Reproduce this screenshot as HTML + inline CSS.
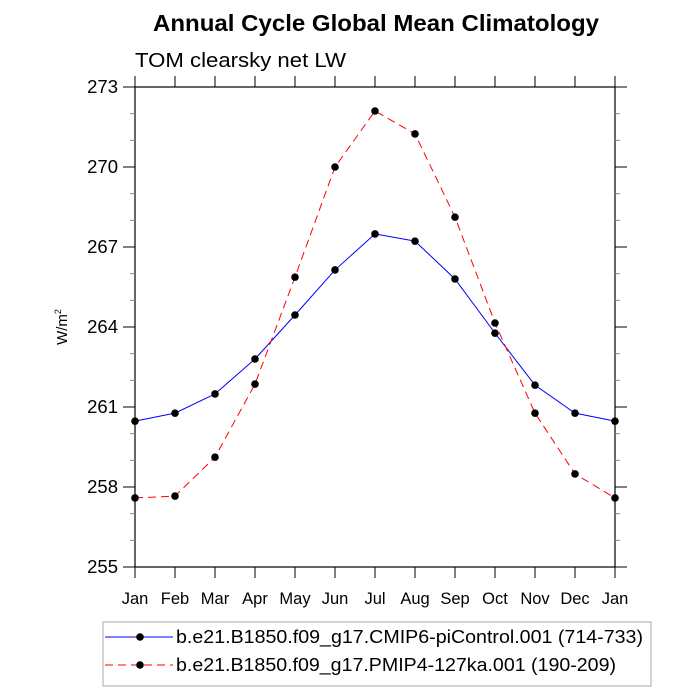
<!DOCTYPE html>
<html><head><meta charset="utf-8"><style>
body{margin:0;background:#fff}
svg{font-family:"Liberation Sans",sans-serif;display:block}
</style></head><body>
<svg width="700" height="700" viewBox="0 0 700 700">
<text x="153" y="31" font-size="23" font-weight="bold" textLength="446" lengthAdjust="spacingAndGlyphs">Annual Cycle Global Mean Climatology</text>
<text x="135" y="67" font-size="20" textLength="211" lengthAdjust="spacingAndGlyphs">TOM clearsky net LW</text>
<text transform="translate(67,327) rotate(-90)" text-anchor="middle" font-size="15">W/m<tspan dy="-6" font-size="9">2</tspan></text>
<g id="axes"></g>
<g id="series"></g>
<g>
<rect x="103" y="622" width="548" height="64" fill="none" stroke="#aaa"/>
<g>
<line x1="105" y1="637" x2="173" y2="637" stroke="#00f" stroke-width="1"/>
<circle cx="140" cy="637" r="3.8" fill="#000"/>
<text x="176" y="643" font-size="18" textLength="467" lengthAdjust="spacingAndGlyphs">b.e21.B1850.f09_g17.CMIP6-piControl.001 (714-733)</text>
</g>
<g>
<line x1="105" y1="665" x2="173" y2="665" stroke="#f00" stroke-width="1" stroke-dasharray="8,5"/>
<circle cx="140" cy="665" r="3.8" fill="#000"/>
<text x="176" y="671" font-size="18" textLength="440" lengthAdjust="spacingAndGlyphs">b.e21.B1850.f09_g17.PMIP4-127ka.001 (190-209)</text>
</g>
</g>
</svg>
<script>
const months=["Jan","Feb","Mar","Apr","May","Jun","Jul","Aug","Sep","Oct","Nov","Dec","Jan"];
const yTicks=[255,258,261,264,267,270,273];
const piControl=[260.47,260.77,261.49,262.8,264.45,266.14,267.49,267.22,265.8,263.77,261.82,260.77,260.47];
const ka127=[257.59,257.66,259.12,261.86,265.87,270.0,272.1,271.24,268.12,264.15,260.77,258.49,257.59];
const X0=135,X1=615,Y0=567,Y1=87,YMIN=255,YMAX=273;
const xs=i=>X0+(X1-X0)*i/(months.length-1);
const ys=v=>Y0-(v-YMIN)/(YMAX-YMIN)*(Y0-Y1);
const NS="http://www.w3.org/2000/svg";
function mk(t,a,p){const e=document.createElementNS(NS,t);for(const k in a)e.setAttribute(k,a[k]);p.appendChild(e);return e;}
const ax=document.getElementById('axes');
const frame=mk('rect',{x:X0,y:Y1,width:X1-X0,height:Y0-Y1,fill:'none',stroke:'#000','stroke-width':1.2},ax);


months.forEach((m,i)=>{
  const x=xs(i);
  mk('line',{x1:x,y1:Y0,x2:x,y2:Y0+11,stroke:'#000'},ax);
  mk('line',{x1:x,y1:Y1,x2:x,y2:Y1-11,stroke:'#000'},ax);
  const t=mk('text',{x:x,y:Y0+37,'text-anchor':'middle','font-size':16.5},ax);
  t.textContent=m;
  
  
});
for(let v=YMIN;v<=YMAX;v++){
  const y=ys(v),maj=(v-YMIN)%3===0,L=maj?12:5;
  mk('line',{x1:X0-L,y1:y,x2:X0,y2:y,stroke:maj?'#000':'#888'},ax);
  mk('line',{x1:X1,y1:y,x2:X1+L,y2:y,stroke:maj?'#000':'#888'},ax);
}
yTicks.forEach(v=>{
  const t=mk('text',{x:X0-17,y:ys(v)+6,'text-anchor':'end','font-size':18.5},ax);
  t.textContent=v;
  
  
});
const sg=document.getElementById('series');
function series(vals,color,dash,name){
  const g=mk('g',{},sg);
  
  
  const a={points:vals.map((v,i)=>xs(i)+','+ys(v)).join(' '),fill:'none',stroke:color,'stroke-width':1};
  if(dash)a['stroke-dasharray']=dash;
  mk('polyline',a,g);
  vals.forEach((v,i)=>{
    const c=mk('circle',{cx:xs(i),cy:ys(v),r:3.8,fill:'#000'},g);
    
    
  });
}
series(piControl,'#00f',null,'series-picontrol');
series(ka127,'#f00','8,5','series-127ka');
</script>
</body></html>
